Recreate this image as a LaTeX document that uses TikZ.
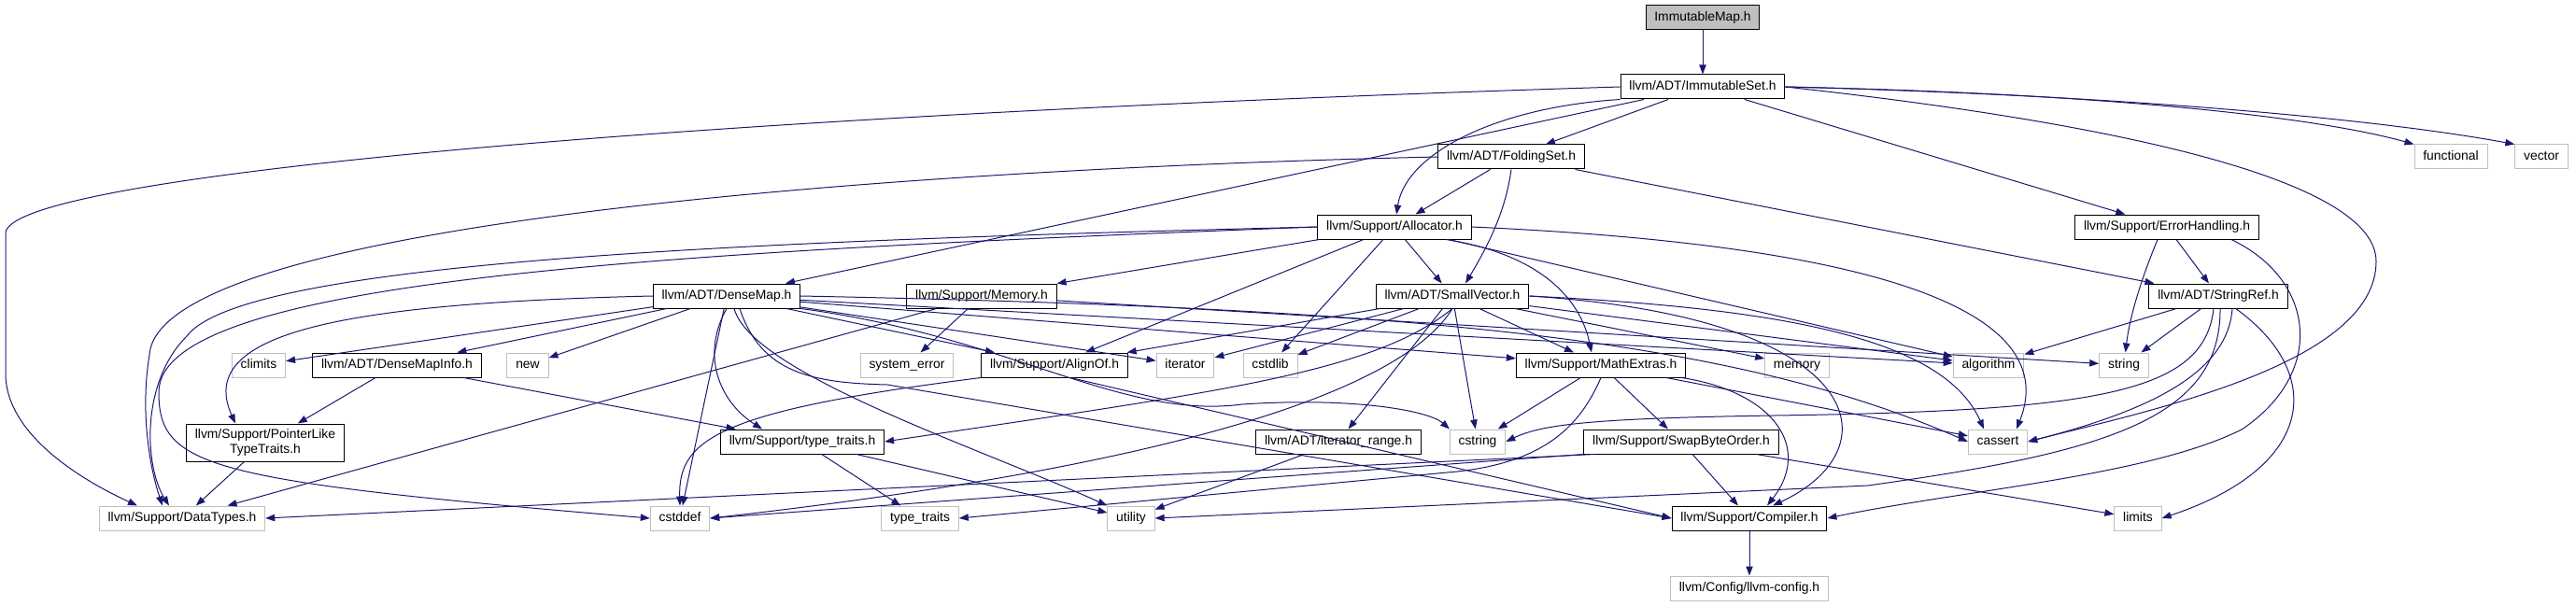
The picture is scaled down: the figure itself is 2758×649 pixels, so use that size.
\documentclass[tikz,border=0pt]{standalone}
\usepackage{fontspec}
\setmainfont{Liberation Sans}
\usetikzlibrary{arrows.meta,calc}

\definecolor{edgeblue}{HTML}{191970}
\definecolor{sysgray}{HTML}{BFBFBF}

\tikzset{
  boxbase/.style={draw=black, line width=0.75pt, fill=white, inner xsep=7pt, inner ysep=2pt,
    minimum height=19.5pt, font=\fontsize{10.4}{11.5}\selectfont},
  filebox/.style={boxbase, text height=7.5pt, text depth=2.2pt},
  sysbox/.style={filebox, draw=sysgray},
  rootbox/.style={filebox, fill=sysgray},
  twoline/.style={boxbase, align=center, minimum height=30pt},
  incl/.style={draw=edgeblue, line width=0.75pt, -{Triangle[length=7.5pt,width=5.5pt]}},
}

\begin{document}
\begin{tikzpicture}[x=0.75pt,y=-0.75pt]
\useasboundingbox (0,0) rectangle (2758,649);

% headers
\node[rootbox] (imap) at (1823,19) {ImmutableMap.h};
\node[filebox] (iset) at (1823,93) {llvm/ADT/ImmutableSet.h};
\node[filebox] (fold) at (1618,168) {llvm/ADT/FoldingSet.h};
\node[sysbox] (func) at (2624,168) {functional};
\node[sysbox] (vec) at (2721,168) {vector};
\node[filebox] (alloc) at (1493,243) {llvm/Support/Allocator.h};
\node[filebox] (errh) at (2320,243) {llvm/Support/ErrorHandling.h};
\node[filebox] (dmap) at (778,317) {llvm/ADT/DenseMap.h};
\node[filebox] (mem) at (1051,317) {llvm/Support/Memory.h};
\node[filebox] (svec) at (1555,317) {llvm/ADT/SmallVector.h};
\node[filebox] (sref) at (2375,317) {llvm/ADT/StringRef.h};
\node[sysbox] (climits) at (277,391) {climits};
\node[filebox] (dmi) at (425,391) {llvm/ADT/DenseMapInfo.h};
\node[sysbox] (new) at (565,391) {new};
\node[sysbox] (syserr) at (971,391) {system\_error};
\node[filebox] (align) at (1129,391) {llvm/Support/AlignOf.h};
\node[sysbox] (iter) at (1269,391) {iterator};
\node[sysbox] (cstdlib) at (1360,391) {cstdlib};
\node[filebox] (mathx) at (1714,391) {llvm/Support/MathExtras.h};
\node[sysbox] (memory) at (1924,391) {memory};
\node[sysbox] (algo) at (2129,391) {algorithm};
\node[sysbox] (string) at (2274,391) {string};
\node[twoline] (plt) at (284,474) {llvm/Support/PointerLike\\TypeTraits.h};
\node[filebox] (tt) at (859,473) {llvm/Support/type\_traits.h};
\node[filebox] (itr) at (1433,473) {llvm/ADT/iterator\_range.h};
\node[sysbox] (cstring) at (1582,473) {cstring};
\node[filebox] (swap) at (1800,473) {llvm/Support/SwapByteOrder.h};
\node[sysbox] (cassert) at (2139,473) {cassert};
\node[sysbox] (dtypes) at (195,555) {llvm/Support/DataTypes.h};
\node[sysbox] (cstddef) at (728,555) {cstddef};
\node[sysbox] (stdtt) at (985,555) {type\_traits};
\node[sysbox] (utility) at (1211,555) {utility};
\node[filebox] (comp) at (1873,555) {llvm/Support/Compiler.h};
\node[sysbox] (limits) at (2289,555) {limits};
\node[sysbox] (config) at (1873,630) {llvm/Config/llvm-config.h};

% ImmutableMap.h, ImmutableSet.h
\draw[incl] (imap) -- (iset);
\draw[incl] (iset.west) .. controls (700,125) and (6,190) .. (6,250) -- (6,400) .. controls (6,470) and (100,520) .. ($(dtypes.north)+(-48,0)$);
\draw[incl] (iset) -- (dmap);
\draw[incl] (iset.south west) .. controls (1600,115) and (1505,165) .. (alloc);
\draw[incl] (iset) -- (fold);
\draw[incl] (iset) -- (errh);
\draw[incl] (iset.east) .. controls (2250,100) and (2480,125) .. (func.north west);
\draw[incl] (iset.east) .. controls (2300,103) and (2560,130) .. (vec.north west);
\draw[incl] (iset.east) .. controls (2250,130) and (2544,190) .. (2544,280) .. controls (2544,390) and (2300,440) .. (cassert.east);

% FoldingSet.h
\draw[incl] (fold.west) .. controls (1000,180) and (170,235) .. (160,380) .. controls (150,440) and (160,500) .. ($(dtypes.north)+(-21,0)$);
\draw[incl] (fold) -- (alloc);
\draw[incl] (fold.south) .. controls (1612,225) and (1595,260) .. ($(svec.north)+(14,0)$);
\draw[incl] (fold) -- (sref);

% Allocator.h
\draw[incl] (alloc.west) .. controls (800,258) and (260,280) .. (200,360) .. controls (150,410) and (155,500) .. ($(dtypes.north)+(-14,0)$);
\draw[incl] (alloc.west) .. controls (700,270) and (170,300) .. (170,420) .. controls (170,500) and (220,515) .. (cstddef.west);
\draw[incl] (alloc) -- (mem);
\draw[incl] (alloc) -- (align);
\draw[incl] (alloc) -- (cstdlib);
\draw[incl] (alloc) -- (svec);
\draw[incl] ($(alloc.south)+(55,0)$) .. controls (1635,270) and (1690,310) .. ($(mathx.north)+(-10,0)$);
\draw[incl] (alloc) -- (algo);
\draw[incl] (alloc.east) .. controls (2000,262) and (2210,330) .. ($(cassert.north)+(20,0)$);

% DenseMap.h
\draw[incl] (dmap) -- (climits);
\draw[incl] (dmap) -- (dmi);
\draw[incl] (dmap) -- (new);
\draw[incl] (dmap.west) .. controls (350,325) and (210,360) .. ($(plt.north)+(-32,0)$);
\draw[incl] (dmap) -- (cstddef);
\draw[incl] (dmap.south) .. controls (750,380) and (770,430) .. ($(tt.north)+(-43,0)$);
\draw[incl] ($(dmap.south)+(8,0)$) .. controls (805,400) and (1050,480) .. (utility.north west);
\draw[incl] ($(dmap.south)+(14,0)$) .. controls (815,400) and (870,410) .. (950,412) -- (comp.west);
\draw[incl] (dmap) -- (align);
\draw[incl] (dmap) -- (iter);
\draw[incl] (dmap) -- (mathx);
\draw[incl] (dmap) -- (algo);
\draw[incl] (dmap.east) .. controls (1500,330) and (1850,360) .. (cassert.west);
\draw[incl] (dmap.south east) .. controls (1080,360) and (1200,450) .. (1330,433) .. controls (1450,425) and (1530,440) .. ($(cstring.north)+(-30,0)$);

% Memory.h
\draw[incl] (mem) -- (syserr);
\draw[incl] (mem) -- (dtypes);
\draw[incl] (mem) -- (string);

% SmallVector.h
\draw[incl] (svec) -- (align);
\draw[incl] (svec) -- (iter);
\draw[incl] (svec) -- (cstdlib);
\draw[incl] (svec.south) .. controls (1470,400) and (1300,420) .. (tt.east);
\draw[incl] (svec.south) .. controls (1500,420) and (1250,500) .. (cstddef.east);
\draw[incl] (svec) -- (itr);
\draw[incl] (svec) -- (cstring);
\draw[incl] (svec) -- (mathx);
\draw[incl] (svec) -- (memory);
\draw[incl] (svec) -- (algo);
\draw[incl] (svec.east) .. controls (1900,330) and (2080,360) .. ($(cassert.north)+(-15,0)$);
\draw[incl] (svec.east) .. controls (2000,340) and (2030,480) .. ($(comp.north)+(25,0)$);

% DenseMapInfo.h, PointerLikeTypeTraits.h, type_traits.h
\draw[incl] (dmi) -- (plt);
\draw[incl] (dmi) -- (tt);
\draw[incl] (plt) -- (dtypes);
\draw[incl] (tt) -- (stdtt);
\draw[incl] (tt) -- (utility);

% AlignOf.h
\draw[incl] (align.south west) .. controls (770,440) and (726,470) .. (cstddef.north);
\draw[incl] ($(align.south)+(17,0)$) -- (comp.west);

% MathExtras.h
\draw[incl] (mathx) -- (cstring);
\draw[incl] (mathx) -- (swap);
\draw[incl] (mathx.south) .. controls (1690,460) and (1650,495) .. (1560,505) -- (stdtt.east);
\draw[incl] (mathx) .. controls (1900,420) and (1940,480) .. ($(comp.north)+(19,0)$);
\draw[incl] (mathx) -- (cassert);

% SwapByteOrder.h
\draw[incl] ($(swap.south west)+(12,0)$) -- (dtypes.east);
\draw[incl] (swap.south west) -- (cstddef.east);
\draw[incl] (swap) -- (comp);
\draw[incl] (swap) -- (limits);

% Compiler.h, iterator_range.h
\draw[incl] (comp) -- (config);
\draw[incl] (itr) -- (utility);

% ErrorHandling.h
\draw[incl] ($(errh.south)+(-10,0)$) .. controls (2292,300) and (2280,340) .. (string);
\draw[incl] (errh) -- (sref);
\draw[incl] ($(errh.south east)+(-30,0)$) .. controls (2480,300) and (2490,400) .. (2400,460) .. controls (2300,510) and (2100,525) .. (comp.east);

% StringRef.h
\draw[incl] (sref) -- (algo);
\draw[incl] (sref) -- (string);
\draw[incl] ($(sref.south)+(-5,0)$) .. controls (2360,420) and (2250,440) .. (1900,445) .. controls (1700,448) and (1650,455) .. (cstring.east);
\draw[incl] ($(sref.south)+(15,0)$) .. controls (2385,400) and (2300,440) .. (cassert.east);
\draw[incl] ($(sref.south)+(2,0)$) .. controls (2378,450) and (2250,485) .. (2000,520) -- (utility.east);
\draw[incl] (sref) .. controls (2490,400) and (2480,500) .. (limits.east);
\end{tikzpicture}
\end{document}
